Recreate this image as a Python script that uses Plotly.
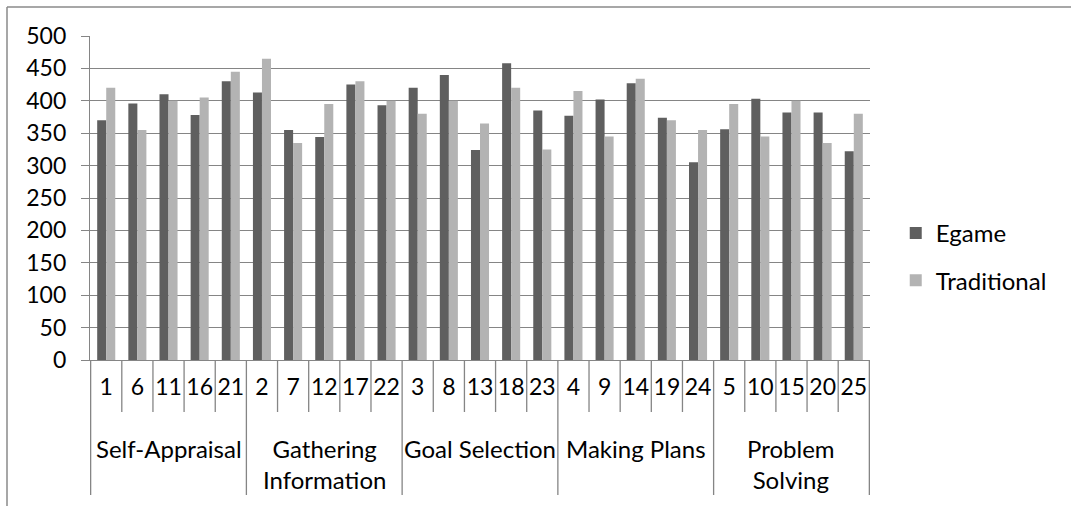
import plotly.graph_objects as go

# Items grouped by the five career-decision competencies
groups = ["Self-Appraisal", "Gathering<br>Information", "Goal Selection",
          "Making Plans", "Problem<br>Solving"]
items = ["1", "6", "11", "16", "21",
         "2", "7", "12", "17", "22",
         "3", "8", "13", "18", "23",
         "4", "9", "14", "19", "24",
         "5", "10", "15", "20", "25"]

egame = [370, 396, 410, 378, 430,
         413, 355, 344, 425, 393,
         420, 440, 324, 458, 385,
         377, 402, 427, 374, 305,
         356, 403, 382, 382, 322]
traditional = [420, 355, 400, 405, 445,
               465, 335, 395, 430, 400,
               380, 400, 365, 420, 325,
               415, 345, 434, 370, 355,
               395, 345, 400, 335, 380]

y_ticks = list(range(0, 501, 50))

FONT = "Lato"
GRID = "#858585"
W, H = 1071, 506
ML, MR, MT, MB = 90, 201, 36, 146
plot_h = H - MT - MB

fig = go.Figure()
fig.add_trace(go.Bar(x=items, y=egame, name="Egame", legendgroup="e",
                     marker=dict(color="#5f5f5f", line=dict(width=0))))
fig.add_trace(go.Bar(x=items, y=traditional, name="Traditional", legendgroup="t",
                     marker=dict(color="#b3b3b3", line=dict(width=0))))

shapes = []
n_items = len(items)
per_group = n_items // len(groups)
# category boundary lines below the axis; group dividers run further down
for k in range(n_items + 1):
    is_group_edge = k % per_group == 0
    depth = 135 if is_group_edge else 52
    shapes.append(dict(type="line", xref="x", yref="paper",
                       x0=k - 0.5, x1=k - 0.5, y0=0, y1=-depth / plot_h,
                       line=dict(color=GRID, width=1.3)))
# outer chart frame (top and left edges)
shapes.append(dict(type="line", xref="paper", yref="paper",
                   x0=(7 - ML) / (W - ML - MR), x1=2,
                   y0=(H - MB - 7) / plot_h, y1=(H - MB - 7) / plot_h,
                   line=dict(color="#8a8a8a", width=1.5)))
shapes.append(dict(type="line", xref="paper", yref="paper",
                   x0=(7 - ML) / (W - ML - MR), x1=(7 - ML) / (W - ML - MR),
                   y0=(H - MB - 7) / plot_h, y1=-2,
                   line=dict(color="#8a8a8a", width=1.5)))

annotations = []
for g, name in enumerate(groups):
    annotations.append(dict(text=name, xref="x", yref="paper",
                            x=g * per_group + (per_group - 1) / 2,
                            y=-72 / plot_h, yanchor="top", xanchor="center",
                            showarrow=False, align="center",
                            font=dict(family=FONT, size=24, color="black")))

fig.update_layout(
    width=W, height=H, autosize=False,
    margin=dict(l=ML, r=MR, t=MT, b=MB, pad=0),
    paper_bgcolor="white", plot_bgcolor="white",
    barmode="group", bargap=0.42, bargroupgap=0,
    font=dict(family=FONT, size=23, color="black"),
    showlegend=True,
    legend=dict(x=1.033, y=0.46, xanchor="left", yanchor="top",
                font=dict(family=FONT, size=24, color="black"),
                tracegroupgap=13, bgcolor="rgba(0,0,0,0)"),
    shapes=shapes, annotations=annotations,
    xaxis=dict(type="category", categoryorder="array", categoryarray=items,
               showline=True, linecolor=GRID, linewidth=1.3,
               showgrid=False, ticks="", ticklabelstandoff=6,
               tickfont=dict(family=FONT, size=23, color="black")),
    yaxis=dict(range=[0, 500], tickvals=y_ticks, showgrid=True,
               gridcolor=GRID, gridwidth=1.3, zeroline=False,
               showline=True, linecolor=GRID, linewidth=1.3,
               ticks="outside", ticklen=8, tickcolor=GRID, tickwidth=1.3,
               ticklabelstandoff=10,
               tickfont=dict(family=FONT, size=23, color="black")),
)

fig.write_html("out.html")
